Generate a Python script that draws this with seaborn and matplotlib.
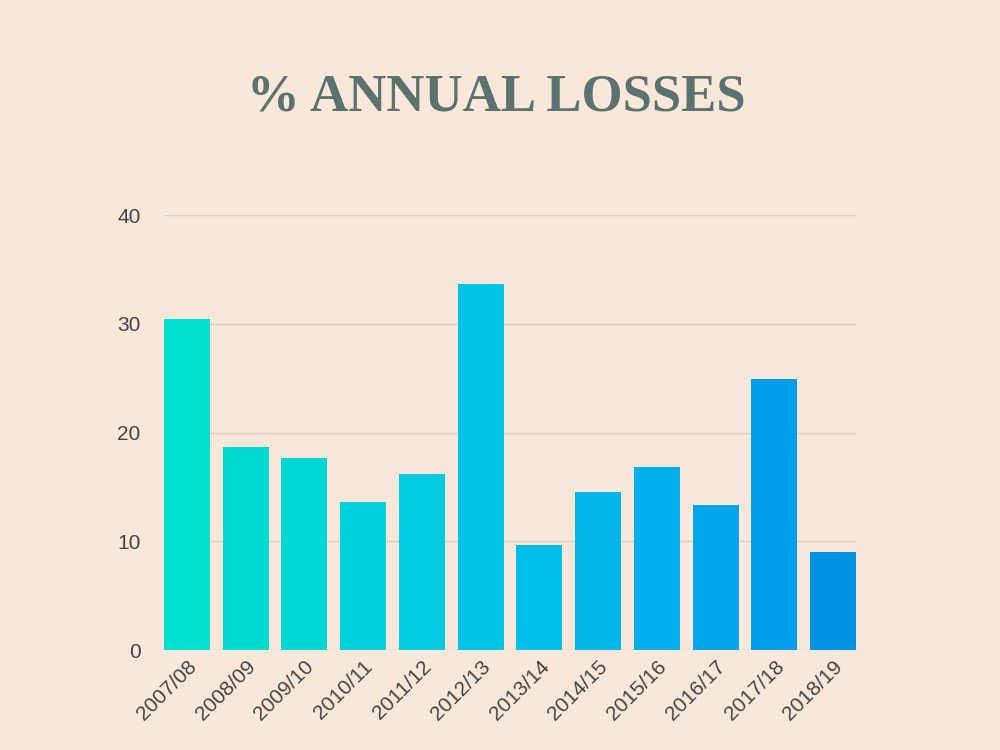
import matplotlib
matplotlib.use("Agg")
import matplotlib.pyplot as plt
import seaborn as sns
import pandas as pd

seasons = ["2007/08", "2008/09", "2009/10", "2010/11", "2011/12", "2012/13",
           "2013/14", "2014/15", "2015/16", "2016/17", "2017/18", "2018/19"]
losses = [30.4, 18.7, 17.7, 13.6, 16.2, 33.7, 9.7, 14.5, 16.8, 13.3, 24.9, 9.0]
bar_colors = ["#00e2cf", "#00dacf", "#00d6d6", "#00d2dc", "#00cbe0", "#00c3e6",
              "#00beea", "#00b6ea", "#00afec", "#00a6ea", "#009ee8", "#0093e2"]
y_ticks = [0, 10, 20, 30, 40]

bg = "#f9e7d9"
sns.set_theme(style="white")
plt.rcParams['font.family'] = ['Liberation Sans', 'DejaVu Sans']

fig = plt.figure(figsize=(10, 7.5), dpi=100, facecolor=bg)
ax = fig.add_axes([0.164, 0.1333, 0.692, 0.58], facecolor=bg)

df = pd.DataFrame({"season": seasons, "loss": losses})
sns.barplot(data=df, x="season", y="loss", hue="season", palette=bar_colors,
            legend=False, width=0.78, ax=ax, saturation=1, linewidth=0)

ax.set_ylim(0, 40)
ax.set_xlim(-0.39, len(seasons) - 0.61)
ax.set_yticks(y_ticks)
ax.yaxis.grid(True, color="#d9cec4", linewidth=1)
ax.set_axisbelow(True)
for s in ax.spines.values():
    s.set_visible(False)
ax.set_xlabel("")
ax.set_ylabel("")
ax.tick_params(axis="y", length=0, pad=17, labelsize=15, labelcolor="#444444")
ax.tick_params(axis="x", length=0, pad=5, labelsize=15, labelcolor="#444444")
plt.setp(ax.get_xticklabels(), rotation=45, ha="right", rotation_mode="anchor")

fig.text(0.496, 0.87, "% ANNUAL LOSSES", ha="center", va="center",
         fontsize=38, fontweight="bold", color="#5b726e",
         family=["Liberation Serif", "DejaVu Serif"])

fig.savefig("out.png", dpi=100, facecolor=bg)
